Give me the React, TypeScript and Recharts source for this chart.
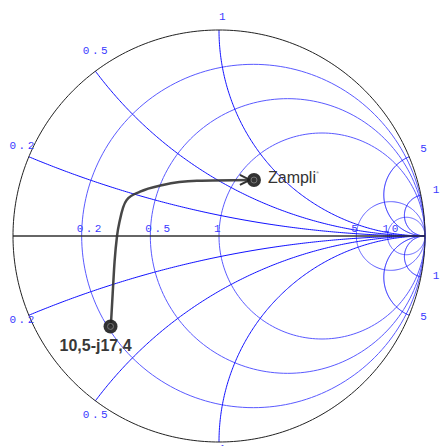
import React from "react"
import { ComposedChart, Line, Scatter, XAxis, YAxis } from "recharts"

// reference impedance used to normalise the marked points
const Z0 = 50

// grid values (normalised)
const resistanceValues = [0.2, 0.5, 1, 5, 10]
const reactanceValues = [0.2, 0.5, 1, 5, 10]
const resistanceLabels = ["0.2", "0.5", "1", "5", "10"]
const reactanceLabels = ["0.2", "0.5", "1", "5", "10"]

// marked impedances, in ohms
const pointNames = ["10,5-j17,4", "Zampli"]
const pointR = [10.5, 58.8]
const pointX = [-17.4, 35.6]

// matching path (reflection coefficient plane)
const pathRe = [-0.525, -0.516, -0.507, -0.495, -0.481, -0.448, -0.383, -0.272, -0.107, 0.15]
const pathIm = [-0.436, -0.277, -0.126, 0.0, 0.078, 0.175, 0.215, 0.248, 0.268, 0.272]

const BLUE_R = "#5a5aff"
const BLUE_X = "#1010ff"
const LABEL_BLUE = "#3a3aff"

type Pt = { x: number; y: number }

// keep everything inside the unit square so the axis domain stays [-1, 1]
const clamp = (v: number) => Math.max(-1, Math.min(1, v))

function arc(cx: number, cy: number, rad: number, a0: number, a1: number, n = 200): Pt[] {
  const out: Pt[] = []
  for (let i = 0; i <= n; i++) {
    const t = a0 + ((a1 - a0) * i) / n
    out.push({ x: clamp(cx + rad * Math.cos(t)), y: clamp(cy + rad * Math.sin(t)) })
  }
  return out
}

function gamma(r: number, x: number): Pt {
  // (z - 1) / (z + 1)
  const d = (r + 1) * (r + 1) + x * x
  return { x: (r * r + x * x - 1) / d, y: (2 * x) / d }
}

const resistanceCircles = resistanceValues.map((r) => arc(r / (1 + r), 0, 1 / (1 + r), 0, Math.PI * 2))

const reactanceCircles: Pt[][] = []
reactanceValues.forEach((xv) => {
  const k = xv * xv + 1
  let a0 = Math.atan2((xv * xv - 1) / k, (-2 * xv) / k)
  if (a0 < 0) a0 += Math.PI * 2
  const up = arc(1, 1 / xv, 1 / xv, a0, Math.PI * 1.5)
  reactanceCircles.push(up)
  reactanceCircles.push(up.map((p) => ({ x: p.x, y: -p.y })))
})

const outline = arc(0, 0, 1, 0, Math.PI * 2, 360)
const axisLine = [{ x: -1, y: 0 }, { x: 1, y: 0 }]

const rLabelData = resistanceValues.map((r, i) => ({ x: (r - 1) / (r + 1), y: 0, label: resistanceLabels[i] }))
const xLabelData: { x: number; y: number; label: string }[] = []
reactanceValues.forEach((xv, i) => {
  const g = gamma(0, xv)
  xLabelData.push({ x: clamp(g.x), y: clamp(g.y), label: reactanceLabels[i] })
  xLabelData.push({ x: clamp(g.x), y: clamp(-g.y), label: reactanceLabels[i] })
})

const pointData = pointNames.map((name, i) => {
  const g = gamma(pointR[i] / Z0, pointX[i] / Z0)
  return { x: g.x, y: g.y, label: name, idx: i }
})

const pathData = pathRe.map((re, i) => ({ x: re, y: pathIm[i] }))

const monoFont = "'Liberation Mono', 'DejaVu Sans Mono', monospace"
const sansFont = "'Liberation Sans', Arial, sans-serif"

// rim labels: text starts a little outside the rim, further out on the left side
function rimOffset(gx: number) {
  if (gx < -0.1) return 21
  if (Math.abs(gx) <= 0.1) return 10
  return 12
}

export default function App() {
  return (
    <div style={{ position: "absolute", left: 0, top: 0, background: "#fff" }}>
      <ComposedChart width={442} height={446} margin={{ top: 30, right: 17, bottom: 4, left: 13 }}>
        <XAxis type="number" dataKey="x" domain={[-1, 1]} hide />
        <YAxis type="number" dataKey="y" domain={[-1, 1]} hide />

        {resistanceCircles.map((pts, i) => (
          <Line key={`r-${i}`} data={pts} dataKey="y" type="linear" stroke={BLUE_R} strokeWidth={1}
            dot={false} activeDot={false} isAnimationActive={false} />
        ))}
        {reactanceCircles.map((pts, i) => (
          <Line key={`x-${i}`} data={pts} dataKey="y" type="linear" stroke={BLUE_X} strokeWidth={1}
            dot={false} activeDot={false} isAnimationActive={false} />
        ))}

        <Line data={axisLine} dataKey="y" type="linear" stroke="#333" strokeWidth={1.5}
          dot={false} activeDot={false} isAnimationActive={false} />
        <Line data={outline} dataKey="y" type="linear" stroke="#222" strokeWidth={1}
          dot={false} activeDot={false} isAnimationActive={false} />

        <Scatter data={rLabelData} isAnimationActive={false}
          shape={(p: any) => (
            <text x={p.cx - 5} y={p.cy - 4} fontSize={11} letterSpacing={2.5} fill={LABEL_BLUE} fontFamily={monoFont}>
              {p.payload.label}
            </text>
          )} />
        <Scatter data={xLabelData} isAnimationActive={false}
          shape={(p: any) => {
            const k = rimOffset(p.payload.x)
            return (
              <text x={p.cx + p.payload.x * k} y={p.cy - p.payload.y * k} fontSize={11} letterSpacing={2.5}
                fill={LABEL_BLUE} fontFamily={monoFont}>
                {p.payload.label}
              </text>
            )
          }} />

        <Line data={pathData} dataKey="y" type="monotone" stroke="#333" strokeOpacity={0.9} strokeWidth={2.5}
          activeDot={false} isAnimationActive={false}
          dot={(p: any) =>
            p.index === pathData.length - 1 ? (
              <path key="arrow" d={`M${p.cx - 10},${p.cy - 5} L${p.cx},${p.cy} L${p.cx - 10},${p.cy + 5}`}
                stroke="#333" strokeWidth={2} fill="none" />
            ) : (
              <g key={`d-${p.index}`} />
            )
          } />

        <Scatter data={pointData} isAnimationActive={false}
          shape={(p: any) => (
            <g>
              <circle cx={p.cx} cy={p.cy} r={7} fill="#222" fillOpacity={0.92} />
              <circle cx={p.cx} cy={p.cy} r={3} fill="none" stroke="#777" strokeWidth={1} />
              {p.payload.idx === 0 ? (
                <text x={p.cx - 51} y={p.cy + 25} fontSize={16} fontWeight="bold" fill="#383838" fontFamily={sansFont}>
                  {p.payload.label}
                </text>
              ) : (
                <text x={p.cx + 14} y={p.cy + 3} fontSize={16} fill="#333" fontFamily={sansFont}>
                  {p.payload.label}
                  <tspan fontSize={8} dy={-7} fill="#999">*</tspan>
                </text>
              )}
            </g>
          )} />
      </ComposedChart>
    </div>
  )
}
